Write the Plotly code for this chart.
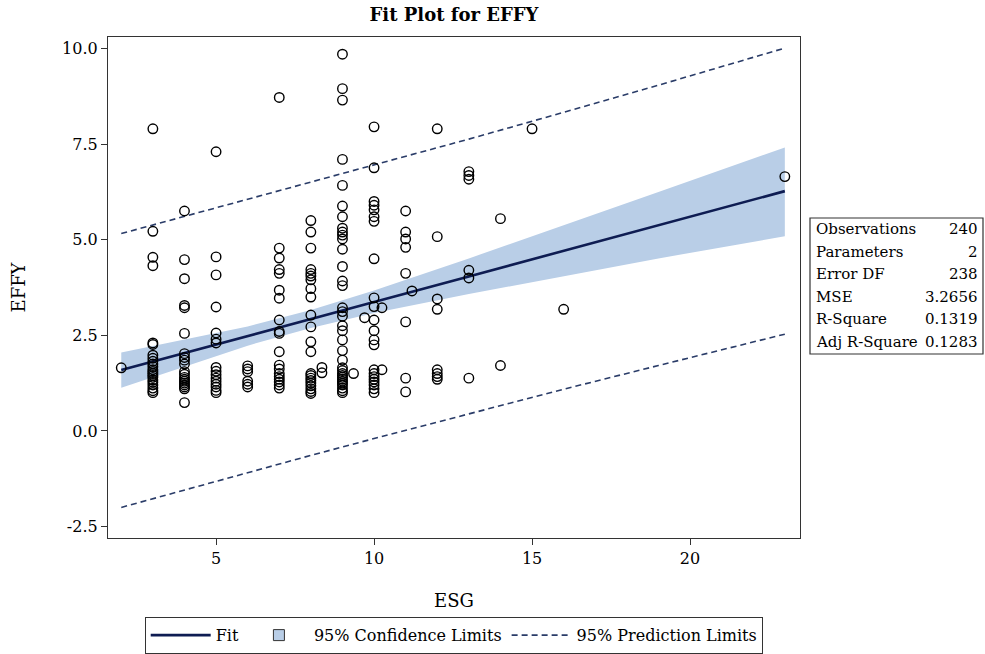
import plotly.graph_objects as go

# ---------------- data ----------------
esg_groups = [2, 3, 4, 5, 6, 7, 8, 8.35, 9, 9.35, 9.7, 10, 10.25, 11, 11.2, 12, 13, 14, 15, 16, 23]
effy_groups = [
    [1.65],
    [7.9, 5.22, 4.54, 4.32, 2.3, 2.26, 1.98, 1.9, 1.82, 1.75, 1.68, 1.6, 1.55, 1.5, 1.45, 1.4,
     1.33, 1.27, 1.2, 1.12, 1.05, 1.0],
    [5.75, 4.48, 3.98, 3.28, 3.22, 2.55, 2.02, 1.92, 1.85, 1.75, 1.55, 1.48, 1.4, 1.35, 1.3,
     1.25, 1.2, 1.15, 1.1, 0.74],
    [7.3, 4.55, 4.08, 3.24, 2.56, 2.4, 2.3, 1.66, 1.56, 1.47, 1.38, 1.3, 1.22, 1.15, 1.06, 1.0],
    [1.7, 1.62, 1.55, 1.3, 1.22, 1.15],
    [8.72, 4.78, 4.52, 4.22, 4.12, 3.68, 3.47, 2.9, 2.6, 2.55, 2.07, 1.72, 1.62, 1.5, 1.42,
     1.35, 1.28, 1.2, 1.12],
    [5.5, 5.2, 4.78, 4.22, 4.12, 4.05, 3.95, 3.72, 3.5, 3.03, 2.72, 2.33, 2.07, 1.5, 1.45,
     1.38, 1.32, 1.25, 1.18, 1.1, 1.03, 0.98],
    [1.66, 1.52],
    [9.85, 8.95, 8.65, 7.1, 6.42, 5.88, 5.6, 5.3, 5.2, 5.12, 5.02, 4.75, 4.3, 3.92, 3.8, 3.22,
     3.12, 3.0, 2.75, 2.62, 2.38, 2.1, 1.85, 1.65, 1.58, 1.5, 1.45, 1.4, 1.35, 1.3, 1.25, 1.2,
     1.12, 1.05, 1.0],
    [1.5],
    [2.96],
    [7.95, 6.88, 6.0, 5.9, 5.78, 5.6, 5.48, 4.5, 3.48, 3.25, 2.9, 2.62, 2.38, 2.25, 1.6, 1.5,
     1.42, 1.35, 1.28, 1.2, 1.1, 1.0],
    [3.22, 1.6],
    [5.75, 5.2, 5.02, 4.8, 4.12, 2.85, 1.38, 1.02],
    [3.66],
    [7.9, 5.08, 3.45, 3.18, 1.6, 1.5, 1.42, 1.35],
    [6.78, 6.68, 6.58, 4.2, 4.0, 1.38],
    [5.55, 1.71],
    [7.9],
    [3.18],
    [6.65],
]

band_x = [2, 4, 6, 8, 10, 13, 16, 19, 23]
fit_y = [1.59, 2.04, 2.48, 2.93, 3.37, 4.04, 4.71, 5.38, 6.27]
ci_lower = [1.13, 1.69, 2.23, 2.69, 3.08, 3.58, 4.05, 4.51, 5.09]
ci_upper = [2.05, 2.38, 2.73, 3.16, 3.67, 4.51, 5.37, 6.25, 7.41]
pi_lower = [-2.00, -1.54, -1.09, -0.64, -0.20, 0.45, 1.09, 1.71, 2.53]
pi_upper = [5.16, 5.61, 6.05, 6.50, 6.95, 7.63, 8.33, 9.04, 10.01]

stat_labels = ["Observations", "Parameters", "Error DF", "MSE", "R-Square", "Adj R-Square"]
stat_values = ["240", "2", "238", "3.2656", "0.1319", "0.1283"]

x_ticks = [5, 10, 15, 20]
y_ticks = [-2.5, 0.0, 2.5, 5.0, 7.5, 10.0]
y_tick_labels = ["-2.5", "0.0", "2.5", "5.0", "7.5", "10.0"]

# ---------------- figure ----------------
FONT = "DejaVu Serif"
esg = []
effy = []
for xv, ys in zip(esg_groups, effy_groups):
    for yv in ys:
        esg.append(xv)
        effy.append(yv)

BAND = "#B9CEE7"
FIT = "#0E1C52"
PI = "#2A3C68"

fig = go.Figure()

fig.add_trace(go.Scatter(
    x=band_x + band_x[::-1], y=ci_upper + ci_lower[::-1],
    fill="toself", fillcolor=BAND, line=dict(width=0),
    mode="lines", name="95% Confidence Limits", showlegend=False, hoverinfo="skip"))

fig.add_trace(go.Scatter(
    x=band_x, y=pi_upper, mode="lines",
    line=dict(color=PI, width=1.6, dash="6px,4px"),
    name="95% Prediction Limits", legendgroup="pi", legendrank=3))
fig.add_trace(go.Scatter(
    x=band_x, y=pi_lower, mode="lines",
    line=dict(color=PI, width=1.6, dash="6px,4px"),
    name="95% Prediction Limits", legendgroup="pi", showlegend=False))

fig.add_trace(go.Scatter(
    x=band_x, y=fit_y, mode="lines",
    line=dict(color=FIT, width=2.6),
    name="Fit", legendrank=1))

# legend-only entry for the confidence band (square swatch like the original)
fig.add_trace(go.Scatter(
    x=[None], y=[None], mode="markers",
    marker=dict(symbol="square", size=11, color=BAND, line=dict(color="#333333", width=1)),
    name="95% Confidence Limits", legendrank=2))

fig.add_trace(go.Scatter(
    x=esg, y=effy, mode="markers",
    marker=dict(symbol="circle-open", size=9.5, color="black", line=dict(width=1.4)),
    showlegend=False, name="EFFY"))

# plot area geometry (pixels)
W, H = 985, 654
L, R, T, B = 108, 185, 37, 116
pw = W - L - R
ph = H - T - B


def px_x(p):
    return (p - L) / pw


def px_y(p):
    return (H - B - p) / ph


# stats box
fig.add_shape(type="rect", xref="paper", yref="paper",
              x0=px_x(810), x1=px_x(983), y0=px_y(354), y1=px_y(218),
              line=dict(color="#333333", width=1.2), fillcolor="white")
row_top = 229
row_step = 22.6
for i, (lab, val) in enumerate(zip(stat_labels, stat_values)):
    yy = px_y(row_top + i * row_step)
    fig.add_annotation(xref="paper", yref="paper", x=px_x(814), y=yy, text=lab,
                       showarrow=False, xanchor="left", yanchor="middle",
                       font=dict(family=FONT, size=15, color="black"))
    fig.add_annotation(xref="paper", yref="paper", x=px_x(980), y=yy, text=val,
                       showarrow=False, xanchor="right", yanchor="middle",
                       font=dict(family=FONT, size=15, color="black"))

# axis titles
fig.add_annotation(xref="paper", yref="paper", x=0.5, y=px_y(600), text="ESG",
                   showarrow=False, xanchor="center", yanchor="middle",
                   font=dict(family=FONT, size=18, color="black"))
fig.add_annotation(xref="paper", yref="paper", x=px_x(18), y=0.5, text="EFFY",
                   textangle=-90, showarrow=False, xanchor="center", yanchor="middle",
                   font=dict(family=FONT, size=18, color="black"))

axis_common = dict(showgrid=False, zeroline=False, showline=True, mirror=True,
                   linecolor="#333333", linewidth=1.2, ticks="outside", ticklen=6,
                   tickcolor="#333333", tickwidth=1.2,
                   tickfont=dict(family=FONT, size=16, color="black"))

fig.update_layout(
    width=W, height=H,
    margin=dict(l=L, r=R, t=T, b=B, autoexpand=False),
    paper_bgcolor="white", plot_bgcolor="white",
    title=dict(text="<b>Fit Plot for EFFY</b>", x=0.5, xref="paper",
               y=1 - 15 / H, yref="container", xanchor="center", yanchor="middle",
               font=dict(family=FONT, size=18, color="black")),
    xaxis=dict(range=[1.58, 23.48], tickvals=x_ticks, **axis_common),
    yaxis=dict(range=[-2.80, 10.30], tickvals=y_ticks, ticktext=y_tick_labels, **axis_common),
    legend=dict(orientation="h", x=0.5, xanchor="center", y=px_y(617), yanchor="top",
                bordercolor="#333333", borderwidth=1.2, bgcolor="white",
                font=dict(family=FONT, size=16, color="black"),
                traceorder="normal", itemwidth=60),
    showlegend=True,
)

fig.write_html("out.html", config={"displayModeBar": False},
               post_script="document.body.style.margin='0';document.body.style.overflow='hidden';")
